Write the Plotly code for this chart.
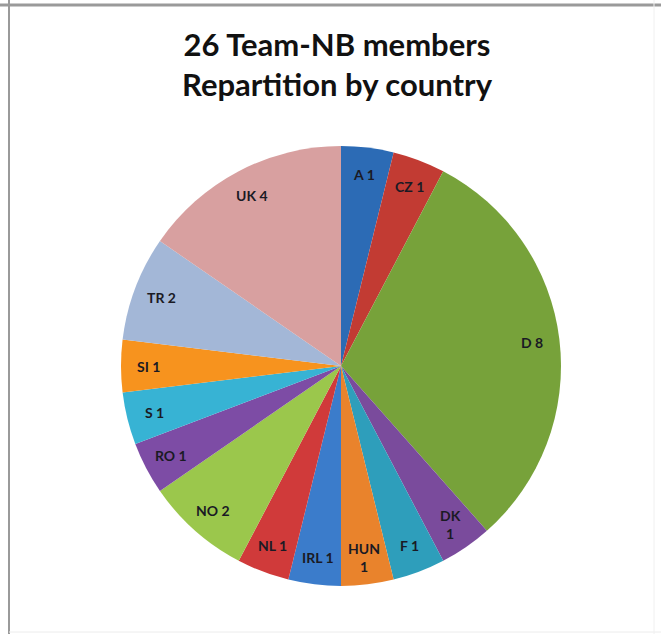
import math
import plotly.graph_objects as go

countries = ["A", "CZ", "D", "DK", "F", "HUN", "IRL", "NL", "NO", "RO", "S", "SI", "TR", "UK"]
members = [1, 1, 8, 1, 1, 1, 1, 1, 2, 1, 1, 1, 2, 4]
label_text = ["A 1", "CZ 1", "D 8", "DK<br>1", "F 1", "HUN<br>1", "IRL 1", "NL 1", "NO 2", "RO 1", "S 1", "SI 1", "TR 2", "UK 4"]
colors = ["#2C6BB5", "#C23B33", "#77A23A", "#7A4B9C", "#2E9EBB", "#E9832C",
          "#3B7CCB", "#D03A3A", "#9BC74C", "#7D4CA5", "#37B3D4", "#F7931E",
          "#A3B7D7", "#D8A0A0"]

W, H = 661, 634
cx, cy, r = 341, 366, 220
label_radius = 0.875
font_fam = "Lato, 'Open Sans', sans-serif"

fig = go.Figure(go.Pie(
    labels=countries,
    values=members,
    textinfo="none",
    marker=dict(colors=colors, line=dict(width=0)),
    sort=False,
    direction="clockwise",
    rotation=0,
    showlegend=False,
    hoverinfo="label+value",
    domain=dict(x=[(cx - r) / W, (cx + r) / W], y=[1 - (cy + r) / H, 1 - (cy - r) / H]),
))

# data labels placed at the mid-angle of each slice (derived from the values)
total = sum(members)
annotations = []
cum = 0
for txt, v in zip(label_text, members):
    mid = (cum + v / 2) / total * 2 * math.pi
    cum += v
    px = cx + label_radius * r * math.sin(mid)
    py = cy - label_radius * r * math.cos(mid)
    annotations.append(dict(
        x=px / W, y=1 - py / H, xref="paper", yref="paper",
        text=f"<b>{txt}</b>", showarrow=False,
        font=dict(family=font_fam, size=14, color="#1a1a24"),
        xanchor="center", yanchor="middle",
    ))

fig.update_layout(
    width=W, height=H,
    margin=dict(l=0, r=0, t=0, b=0),
    paper_bgcolor="white",
    title=dict(
        text="<b>26 Team-NB members</b><br><b>Repartition by country</b>",
        font=dict(family=font_fam, size=31, color="#111"),
        x=337 / W, xanchor="center", y=1 - 56 / H, yanchor="middle",
    ),
    annotations=annotations,
    shapes=[
        dict(type="line", xref="paper", yref="paper", x0=0, x1=1, y0=1 - 5 / H, y1=1 - 5 / H,
             line=dict(color="#9a9a9a", width=3)),
        dict(type="line", xref="paper", yref="paper", x0=9 / W, x1=9 / W, y0=0, y1=1,
             line=dict(color="#9a9a9a", width=2)),
        dict(type="line", xref="paper", yref="paper", x0=9 / W, x1=1, y0=2 / H, y1=2 / H,
             line=dict(color="#ececec", width=1)),
        dict(type="line", xref="paper", yref="paper", x0=654 / W, x1=654 / W, y0=0, y1=1,
             line=dict(color="#f0f0f0", width=1)),
    ],
)

fig.write_html("out.html", config={"displayModeBar": False},
               post_script="document.body.style.margin='0';")
